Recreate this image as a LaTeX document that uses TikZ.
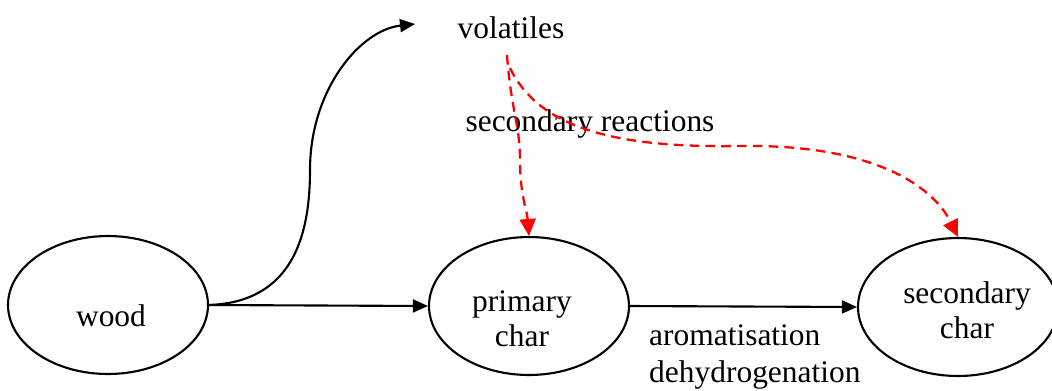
\documentclass[tikz,border=0pt]{standalone}
\usepackage{fontspec}
\setmainfont{Liberation Serif}
\usetikzlibrary{shapes.geometric, arrows.meta}

\begin{document}
\begin{tikzpicture}[
    x=0.02cm, y=-0.02cm,
    every node/.style       = {font=\fontsize{17.9}{20}\selectfont, align=center},
    stage/.style            = {ellipse, draw, line width=1.2pt, minimum width=4cm, minimum height=2.76cm, inner sep=0pt},
    flow/.style             = {line width=1.2pt, -{Triangle[length=0.3cm, width=0.26cm]}},
    react/.style            = {red, line width=1.3pt, dash pattern=on 5.5pt off 3.5pt, -{Triangle[length=0.34cm, width=0.32cm]}}
    ]
      \useasboundingbox (0,0) rectangle (1052,390);
      % stages ---------------------------------------------------
      \node[stage] (wood)  at (108,305) {};
      \node[stage] (pchar) at (529,306) {};
      \node[stage] (schar) at (958,307) {};
      \node at (111,316) {wood};
      \node at (522,319) {primary\\char};
      \node at (967,310) {secondary\\char};
      \node (vol) at (511,28) {volatiles};
      \coordinate (vtip) at (415,24);
      \coordinate (vsrc) at (507,55);
      \coordinate (vsrc2) at (510,68);

      % labels ---------------------------------------------------
      \node (sreac) at (590,124) {secondary reactions};
      \node[align=left, anchor=west, font=\fontsize{17.9}{21}\selectfont] (arom) at (643,357) {aromatisation\\dehydrogenation};

      % connectors -----------------------------------------------
      \draw[flow] (wood.east) .. controls (290,302) and (310,240) .. (310,170)
                  .. controls (310,90) and (360,30) .. (vtip);
      \draw[flow] (wood.east) -- (pchar.west);
      \draw[flow] (pchar.east) -- (schar.west);
      \draw[react] (vsrc) .. controls (511,110) and (520,125) .. (520,160)
                   .. controls (520,195) and (527,210) .. (pchar.north);
      \draw[react] (vsrc2) .. controls (540,130) and (620,148) .. (740,146)
                   .. controls (880,144) and (935,190) .. (schar.north);
\end{tikzpicture}
\end{document}
